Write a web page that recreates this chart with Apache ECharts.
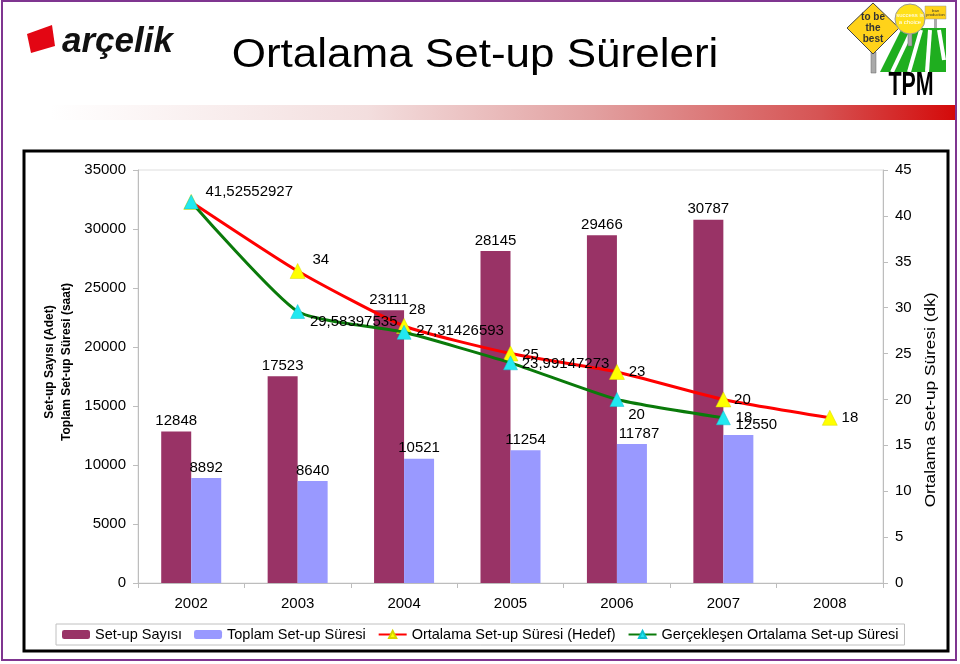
<!DOCTYPE html>
<html><head><meta charset="utf-8">
<script src="https://cdn.jsdelivr.net/npm/echarts@6/dist/echarts.min.js"></script>
<style>html,body{margin:0;padding:0;background:#fff}#c{width:960px;height:664px}</style>
</head><body><div id="c"></div>
<script>
// ---- data ----
const years = ['2002', '2003', '2004', '2005', '2006', '2007', '2008'];
const setupCount = [12848, 17523, 23111, 28145, 29466, 30787, null];
const totalTime = [8892, 8640, 10521, 11254, 11787, 12550, null];
const targetAvg = [41.52552927, 34, 28, 25, 23, 20, 18];
const actualAvg = [41.52552927, 29.58397535, 27.31426593, 23.99147273, 20, 18, null];
const leftTicks = { min: 0, max: 35000, step: 5000 };
const rightTicks = { min: 0, max: 45, step: 5 };
const seriesNames = ['Set-up Sayısı', 'Toplam Set-up Süresi', 'Ortalama Set-up Süresi (Hedef)', 'Gerçekleşen Ortalama Set-up Süresi'];
const titleText = 'Ortalama Set-up Süreleri';
const leftAxisName = 'Set-up Sayısı (Adet)\nToplam Set-up Süresi (saat)';
const rightAxisName = 'Ortalama Set-up Süresi (dk)';

// ---- label placement tweaks (styling only) ----
const targetLabelOffsets = [[0, -10], [0, -11], [-10, -16], [-3, 1], [-3, 0], [-4, 0], [-3, 0]];
const actualLabelOffsets = [[0, -10], [-2, 10], [-2, -1], [-3, 1], [-3, 15], [-2, 0], [0, 0]];
const totalLabelOffsets = [[0, 0], [0, 0], [0, 0], [0, 0], [7, 0], [18, 0], [0, 0]];

const F = '"Liberation Sans", Arial, sans-serif';
const fmt = v => String(v).replace('.', ',');
const withOffsets = (vals, offs, hide) => vals.map((v, i) => v == null ? null :
  { value: v, label: { offset: offs[i], show: !(hide && hide.includes(i)) } });

const chart = echarts.init(document.getElementById('c'), null, { renderer: 'canvas' });

const axisGray = '#bdbdbd';
const option = {
  animation: false,
  backgroundColor: '#fff',
  textStyle: { fontFamily: F },
  grid: { left: 138, right: 77, top: 170, bottom: 81, show: true, borderColor: '#dedede', borderWidth: 1 },
  legend: {
    data: seriesNames,
    left: 56, top: 624,
    itemWidth: 28, itemHeight: 9, itemGap: 12,
    padding: [3, 6, 3, 6],
    borderColor: '#c0c0c0', borderWidth: 1,
    textStyle: { fontSize: 14.5, color: '#000', fontFamily: F }
  },
  xAxis: {
    type: 'category', data: years,
    axisLine: { lineStyle: { color: axisGray } },
    axisTick: { show: true, length: 5, lineStyle: { color: axisGray } },
    axisLabel: { color: '#000', fontSize: 15, fontFamily: F, margin: 13 }
  },
  yAxis: [
    {
      type: 'value', min: leftTicks.min, max: leftTicks.max, interval: leftTicks.step,
      axisLine: { show: true, lineStyle: { color: axisGray } },
      axisTick: { show: true, length: 5, lineStyle: { color: axisGray } },
      splitLine: { show: false },
      axisLabel: { color: '#000', fontSize: 15, fontFamily: F, margin: 12, formatter: v => String(v) }
    },
    {
      type: 'value', position: 'right', min: rightTicks.min, max: rightTicks.max, interval: rightTicks.step,
      axisLine: { show: true, lineStyle: { color: axisGray } },
      axisTick: { show: true, length: 5, lineStyle: { color: axisGray } },
      splitLine: { show: false },
      axisLabel: { color: '#000', fontSize: 15, fontFamily: F, margin: 12, formatter: v => String(v) }
    }
  ],
  series: [
    {
      name: seriesNames[0], type: 'bar', yAxisIndex: 0, data: setupCount,
      barWidth: 30, barGap: '0%',
      itemStyle: { color: '#993366' },
      label: { show: true, position: 'top', distance: 3, color: '#000', fontSize: 15, fontFamily: F }
    },
    {
      name: seriesNames[1], type: 'bar', yAxisIndex: 0,
      data: totalTime.map((v, i) => v == null ? null : { value: v, label: { offset: totalLabelOffsets[i] } }),
      barWidth: 30, barGap: '0%',
      itemStyle: { color: '#9999FF' },
      label: { show: true, position: 'top', distance: 3, color: '#000', fontSize: 15, fontFamily: F }
    },
    {
      name: seriesNames[2], type: 'line', yAxisIndex: 1, data: withOffsets(targetAvg, targetLabelOffsets, [0]),
      smooth: 0.18, symbol: 'triangle', symbolSize: 15, z: 3,
      lineStyle: { color: '#FF0000', width: 3 },
      itemStyle: { color: '#FFFF00', borderColor: '#d6d600', borderWidth: 0.5 },
      label: { show: true, position: 'right', distance: 7, color: '#000', fontSize: 15, fontFamily: F, formatter: p => fmt(p.value) }
    },
    {
      name: seriesNames[3], type: 'line', yAxisIndex: 1, data: withOffsets(actualAvg, actualLabelOffsets),
      smooth: 0.18, symbol: 'triangle', symbolSize: 14, z: 4,
      lineStyle: { color: '#0a7a0a', width: 3 },
      itemStyle: { color: '#22E8F0', borderColor: '#10c0d0', borderWidth: 0.5 },
      label: { show: true, position: 'right', distance: 7, color: '#000', fontSize: 15, fontFamily: F, formatter: p => fmt(p.value) }
    }
  ],
  graphic: [
    // outer purple frame
    { type: 'rect', z: 0, shape: { x: 2, y: 1, width: 954, height: 659 }, style: { fill: 'none', stroke: '#7f3590', lineWidth: 2 } },
    // gradient band
    { type: 'rect', z: 0, shape: { x: 50, y: 105, width: 905, height: 15 },
      style: { fill: new echarts.graphic.LinearGradient(0, 0, 1, 0, [
        { offset: 0, color: 'rgba(255,255,255,1)' },
        { offset: 0.35, color: '#f3dede' },
        { offset: 0.6, color: '#e2a0a0' },
        { offset: 0.85, color: '#d65454' },
        { offset: 1, color: '#d40a0a' }]) } },
    // chart box
    { type: 'rect', z: 0, shape: { x: 24, y: 151, width: 924, height: 500 }, style: { fill: 'none', stroke: '#000', lineWidth: 3 } },
    // title
    { type: 'text', z: 5, x: 475, y: 56, scaleX: 1.1, style: { text: titleText, font: '40px ' + F, fill: '#000', align: 'center', verticalAlign: 'middle' } },
    // arcelik logo
    { type: 'polygon', z: 5, shape: { points: [[27, 34], [52, 25], [55, 46], [31, 53]] }, style: { fill: '#e30613' } },
    { type: 'text', z: 5, x: 62, y: 42, style: { text: 'arçelik', font: 'italic bold 35px ' + F, fill: '#111', align: 'left', verticalAlign: 'middle' } },
    // TPM logo
    { type: 'polygon', z: 5, shape: { points: [[880, 72], [946, 72], [946, 28], [902, 28]] }, style: { fill: '#1fae1f' } },
    { type: 'polyline', z: 6, shape: { points: [[912, 30], [892, 72]] }, style: { stroke: '#fff', lineWidth: 4 } },
    { type: 'polyline', z: 6, shape: { points: [[921, 30], [909, 72]] }, style: { stroke: '#fff', lineWidth: 4 } },
    { type: 'polyline', z: 6, shape: { points: [[930, 30], [927, 72]] }, style: { stroke: '#fff', lineWidth: 4 } },
    { type: 'polyline', z: 6, shape: { points: [[939, 30], [944, 60]] }, style: { stroke: '#fff', lineWidth: 4 } },
    { type: 'rect', z: 6, shape: { x: 871, y: 52, width: 5, height: 21 }, style: { fill: '#aaa', stroke: '#666', lineWidth: 0.5 } },
    { type: 'polygon', z: 7, shape: { points: [[873, 3], [899, 28], [873, 54], [847, 28]] }, style: { fill: '#ffd21a', stroke: '#444', lineWidth: 1 } },
    { type: 'text', z: 8, x: 873, y: 28, style: { text: 'to be\nthe\nbest', font: 'bold 10px ' + F, lineHeight: 11, fill: '#333', align: 'center', verticalAlign: 'middle' } },
    { type: 'rect', z: 6, shape: { x: 908, y: 32, width: 4, height: 14 }, style: { fill: '#aaa', stroke: '#666', lineWidth: 0.5 } },
    { type: 'circle', z: 7, shape: { cx: 910, cy: 19, r: 15 }, style: { fill: '#ffe01a', stroke: '#999', lineWidth: 1 } },
    { type: 'text', z: 8, x: 910, y: 19, style: { text: 'success is\na choice', font: '6px ' + F, lineHeight: 7, fill: '#fff', align: 'center', verticalAlign: 'middle' } },
    { type: 'rect', z: 6, shape: { x: 934, y: 18, width: 3, height: 10 }, style: { fill: '#aaa' } },
    { type: 'rect', z: 7, shape: { x: 925, y: 6, width: 21, height: 13 }, style: { fill: '#ffd21a', stroke: '#999', lineWidth: 0.5 } },
    { type: 'text', z: 8, x: 935.5, y: 12.5, style: { text: 'lean\nproduction', font: '4px ' + F, lineHeight: 4, fill: '#333', align: 'center', verticalAlign: 'middle' } },
    { type: 'text', z: 8, x: 911, y: 86, scaleX: 0.63, style: { text: 'TPM', font: 'bold 34px ' + F, fill: '#000', align: 'center', verticalAlign: 'middle' } },
    // axis names
    { type: 'text', z: 5, x: 58, y: 362, rotation: Math.PI / 2,
      style: { text: leftAxisName, font: 'bold 12px ' + F, lineHeight: 17, fill: '#000', align: 'center', verticalAlign: 'middle' } },
    { type: 'text', z: 5, x: 931, y: 400, rotation: Math.PI / 2, scaleX: 1.15,
      style: { text: rightAxisName, font: '15px ' + F, fill: '#000', align: 'center', verticalAlign: 'middle' } }
  ]
};
chart.setOption(option);
</script>
</body></html>
